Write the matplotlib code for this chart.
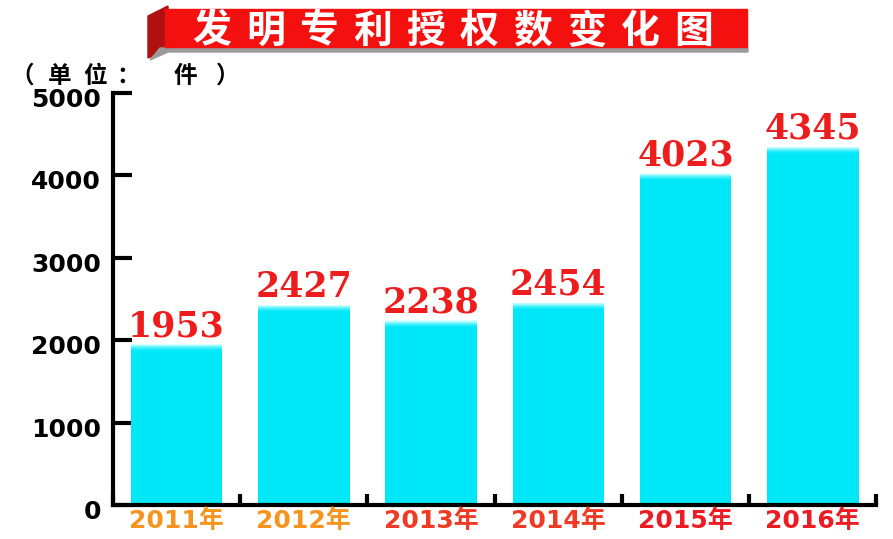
import numpy as np
import matplotlib.pyplot as plt
import matplotlib.transforms as mtransforms
from matplotlib.patches import Polygon, Rectangle

plt.rcParams['font.family'] = ['Noto Sans CJK SC', 'DejaVu Sans']

years = ["2011年", "2012年", "2013年", "2014年", "2015年", "2016年"]
counts = [1953, 2427, 2238, 2454, 4023, 4345]
year_colors = ["#F7941D", "#F7941D", "#EF3B24", "#EF3B24", "#ED1C24", "#ED1C24"]
yticks = [0, 1000, 2000, 3000, 4000, 5000]
title = "发明专利授权数变化图"

fig = plt.figure(figsize=(8.93, 5.39), dpi=100)
ax = fig.add_axes([0.1265, 0.063, 0.855, 0.765])

x = np.arange(len(years))
bar_w = 0.72
cyan = np.array([0.0, 0.91, 0.97])
ax.bar(x, counts, width=bar_w, color=cyan, zorder=2, linewidth=0)
# light gradient band at the top of each bar
band = 90
steps = 12
for i in range(steps):
    t = i / (steps - 1)  # 0 at bottom of band, 1 at top
    col = cyan + (np.array([0.85, 1.0, 1.0]) - cyan) * t ** 1.5
    ax.bar(x, band / steps, bottom=[c - band + i * band / steps for c in counts],
           width=bar_w, color=tuple(col), zorder=3, linewidth=0)

for xi, c in zip(x, counts):
    ax.text(xi, c + 10, str(c), ha="center", va="bottom", color="#EE1C1C",
            fontsize=25, fontweight="bold", family="DejaVu Serif", zorder=4)

ax.set_xlim(-0.5, 5.5)
ax.set_ylim(0, 5000)
ax.set_yticks(yticks)
ax.set_yticklabels([])
# y labels drawn by hand, sitting a little below their ticks
ylab_tr = mtransforms.blended_transform_factory(ax.transAxes, ax.transData) + \
    mtransforms.ScaledTranslation(-12 / 100, -7 / 100, fig.dpi_scale_trans)
for v in yticks:
    ax.text(0, v, str(v), transform=ylab_tr, ha="right", va="center",
            fontsize=18, fontweight="bold", family="DejaVu Sans", clip_on=False)
ax.set_xticks(np.arange(-0.5, 5.6, 1.0))
ax.set_xticklabels([])
ax.tick_params(axis="y", direction="in", length=14, width=3)
ax.tick_params(axis="x", direction="in", length=8, width=3)
for s in ["top", "right"]:
    ax.spines[s].set_visible(False)
ax.spines["left"].set_linewidth(3)
ax.spines["bottom"].set_linewidth(3)

for xi, lab, col in zip(x, years, year_colors):
    ax.text(xi, -50, lab, ha="center", va="top", color=col, fontsize=18,
            fontweight="bold", family=["DejaVu Sans", "Noto Sans CJK SC"],
            clip_on=False)

# title banner
fig.patches.append(Polygon([[148 / 893, 1 - 16 / 539], [168 / 893, 1 - 6 / 539],
                            [168 / 893, 1 - 50 / 539], [148 / 893, 1 - 58 / 539]],
                           closed=True, transform=fig.transFigure, color="#B01010"))
fig.patches.append(Polygon([[160 / 893, 1 - 48 / 539], [748 / 893, 1 - 48 / 539],
                            [748 / 893, 1 - 52 / 539], [168 / 893, 1 - 52 / 539],
                            [150 / 893, 1 - 60 / 539]],
                           closed=True, transform=fig.transFigure, color="#9A9A9A"))
fig.patches.append(Rectangle((165 / 893, 1 - 47 / 539), 582 / 893, 38 / 539,
                             transform=fig.transFigure, color="#F51010"))
for i, ch in enumerate(title):
    fig.text((212 + i * 53.5) / 893, 1 - 31 / 539, ch, ha="center", va="center",
             color="white", fontsize=28, fontweight="heavy")

# unit label
unit_chars = ["（", "单", "位", "：", "件", "）"]
unit_x = [22, 60, 95, 128, 185, 228]
for ch, ux in zip(unit_chars, unit_x):
    fig.text(ux / 893, 1 - 76 / 539, ch, ha="center", va="center",
             color="black", fontsize=17, fontweight="bold")

fig.savefig("out.png", dpi=100)
